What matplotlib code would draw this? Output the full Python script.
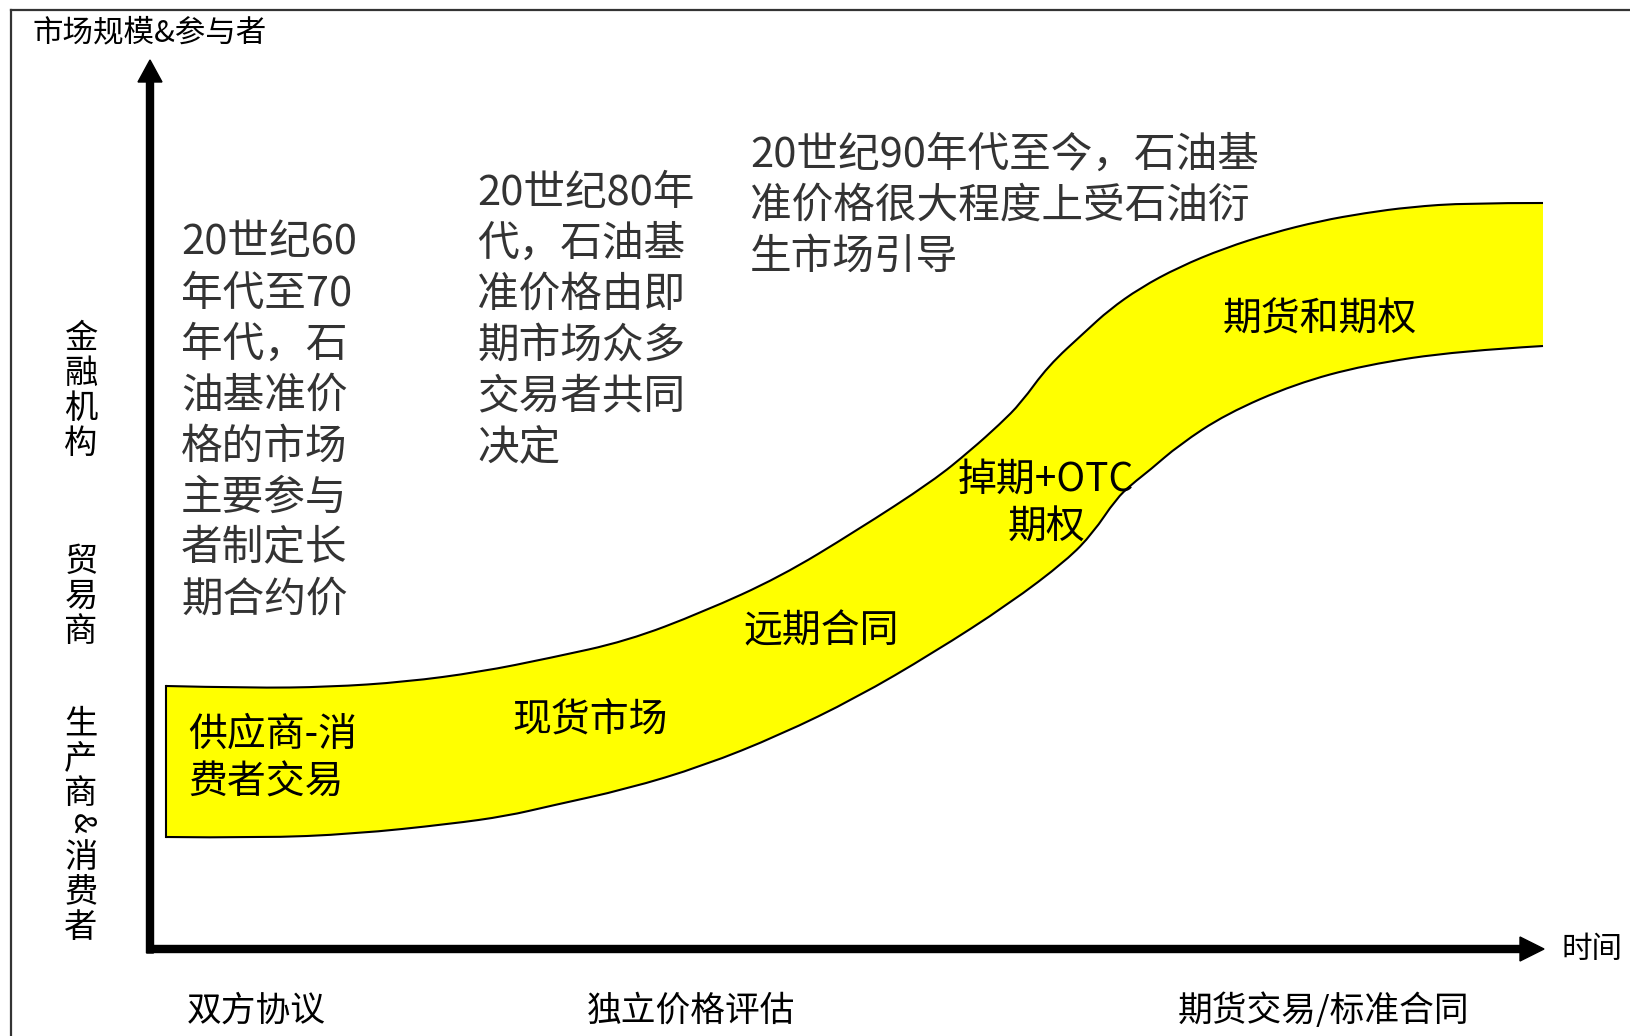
import numpy as np
import matplotlib
matplotlib.use("Agg")
import matplotlib.pyplot as plt
from matplotlib.path import Path
from matplotlib.patches import PathPatch

plt.rcParams['font.family'] = ['Noto Sans CJK SC', 'DejaVu Sans']

# yellow market band, upper and lower edge (x grows to the right, y grows downward)
upper_x = [166, 250, 329, 405, 480, 550, 627, 703, 780, 856, 933, 971, 1000, 1021,
           1048, 1086, 1109, 1140, 1179, 1225, 1272, 1320, 1365, 1410, 1467, 1543]
upper_y = [686, 688, 687, 682, 672, 658, 641, 612, 577, 531, 481, 450, 424, 403,
           366, 331, 310, 288, 267, 248, 233, 221, 213, 207, 203, 203]
lower_x = [166, 260, 354, 450, 507, 550, 627, 703, 780, 856, 933, 1009, 1067, 1093,
           1116, 1132, 1150, 1179, 1226, 1295, 1365, 1458, 1543]
lower_y = [837, 838, 834, 824, 816, 806, 789, 766, 735, 698, 653, 604, 560, 533,
           499, 484, 470, 445, 414, 384, 365, 351, 346]

# stage texts above the band
stage_texts = [
    ["20世纪60", "年代至70", "年代，石", "油基准价", "格的市场", "主要参与", "者制定长", "期合约价"],
    ["20世纪80年", "代，石油基", "准价格由即", "期市场众多", "交易者共同", "决定"],
    ["20世纪90年代至今，石油基", "准价格很大程度上受石油衍", "生市场引导"],
]
stage_pos = [(181, 243), (477, 193), (750, 155)]

# labels inside the band
band_labels = [["供应商-消", "费者交易"], ["现货市场"], ["远期合同"], ["掉期+OTC", "期权"], ["期货和期权"]]
band_label_pos = [(188, 735), (512, 720), (743, 631), (1046, 480), (1223, 320)]
band_label_ha = ['left', 'left', 'left', 'center', 'left']

# participants along the y axis
participants = ["金融机构", "贸易商", "生产商&消费者"]
participant_top = [338, 561, 724]

# pricing mechanisms along the x axis
mechanisms = ["双方协议", "独立价格评估", "期货交易/标准合同"]
mechanism_left = [187, 587, 1178]


def smooth_verts(xs, ys):
    # quadratic bezier through the midpoints, the given points act as controls
    pts = np.column_stack([xs, ys]).astype(float)
    verts = [pts[0]]
    codes = [Path.MOVETO]
    for i in range(1, len(pts) - 1):
        end = pts[i + 1] if i == len(pts) - 2 else (pts[i] + pts[i + 1]) / 2
        verts += [pts[i], end]
        codes += [Path.CURVE3, Path.CURVE3]
    return verts, codes


fig = plt.figure(figsize=(16.3, 10.36), dpi=100)
ax = fig.add_axes([0, 0, 1, 1])
ax.set_xlim(0, 1630)
ax.set_ylim(1036, 0)
ax.axis('off')

# frame lines
ax.plot([11, 1630], [10, 10], color='#333333', lw=1.6)
ax.plot([11, 11], [10, 1036], color='#333333', lw=1.6)

# band fill
uv, uc = smooth_verts(upper_x, upper_y)
lv, lc = smooth_verts(lower_x[::-1], lower_y[::-1])
lc[0] = Path.LINETO
band = Path(uv + lv + [uv[0]], uc + lc + [Path.CLOSEPOLY])
ax.add_patch(PathPatch(band, facecolor='#ffff00', edgecolor='none', zorder=1))

# band outline: top, bottom and left side, right side stays open
ax.add_patch(PathPatch(Path(uv, uc), fill=False, edgecolor='black', lw=1.5, zorder=2))
lv2, lc2 = smooth_verts(lower_x, lower_y)
ax.add_patch(PathPatch(Path(lv2, lc2), fill=False, edgecolor='black', lw=1.5, zorder=2))
ax.plot([upper_x[0], lower_x[0]], [upper_y[0], lower_y[0]], color='black', lw=1.5, zorder=2)

# axes arrows
ax.arrow(150, 953, 0, 60 - 953, width=7, head_width=24, head_length=22,
         length_includes_head=True, fc='black', ec='black', zorder=3)
ax.arrow(147, 949, 1544 - 147, 0, width=7, head_width=24, head_length=24,
         length_includes_head=True, fc='black', ec='black', zorder=3)

ax.text(32, 33, "市场规模&参与者", fontsize=22, ha='left', va='center', color='black')
ax.text(1562, 949, "时间", fontsize=22, ha='left', va='center', color='black')

for lines, (x0, y0) in zip(stage_texts, stage_pos):
    for i, line in enumerate(lines):
        ax.text(x0, y0 + i * 51, line, fontsize=30, ha='left', va='center', color='#333333')

for lines, (x0, y0), ha in zip(band_labels, band_label_pos, band_label_ha):
    for i, line in enumerate(lines):
        ax.text(x0, y0 + i * 48, line, fontsize=28, ha=ha, va='center', color='black', zorder=4)

for label, top in zip(participants, participant_top):
    y = top
    for ch in label:
        if ch == '&':
            ax.text(81, y - 6, ch, fontsize=22, ha='center', va='center', rotation=-90)
            y += 29
        else:
            ax.text(81, y, ch, fontsize=24, ha='center', va='center')
            y += 35

for label, x0 in zip(mechanisms, mechanism_left):
    ax.text(x0, 1011, label, fontsize=25, ha='left', va='center', color='black')

fig.savefig("out.png", dpi=100, facecolor='white')
